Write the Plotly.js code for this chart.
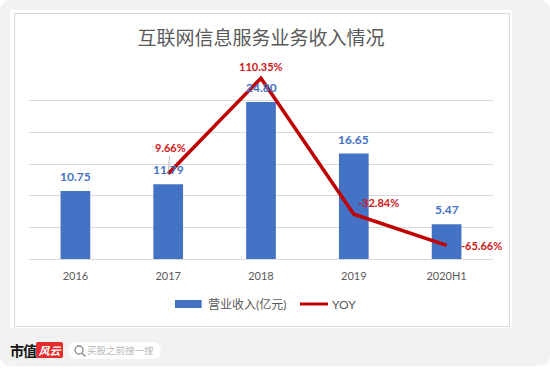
<!DOCTYPE html>
<html><head><meta charset="utf-8">
<script src="https://cdn.plot.ly/plotly-3.0.1.min.js"></script>
<style>
html,body{margin:0;padding:0;background:#fff;width:550px;height:368px;overflow:hidden;}
#bg{position:absolute;left:0;top:0;width:550px;height:366px;background:#f2f2f2;border-radius:10px;}
#card{position:absolute;left:10px;top:10px;width:502px;height:318px;background:#fff;}
#frame{position:absolute;left:14px;top:13px;width:494px;height:312px;border:1px solid #d9d9d9;}
#chart{position:absolute;left:15px;top:14px;width:494px;height:312px;}
#logo1{position:absolute;left:10px;top:341px;font:bold 14px 'Noto Sans CJK SC';color:#111;line-height:18px;letter-spacing:-1px;}
#logo2{position:absolute;left:36px;top:342px;width:27px;height:16px;background:#e52b2b;border-radius:2px;color:#fff;font:italic bold 11px 'Noto Sans CJK SC';line-height:16px;text-align:center;}
#search{position:absolute;left:68px;top:342px;width:93px;height:17px;background:#fff;border-radius:9px;}
#search span{position:absolute;left:19px;top:0;font:9.5px 'Noto Sans CJK SC';color:#b8b8b8;line-height:17px;}
</style></head>
<body>
<div id="bg"></div>
<div id="card"></div>
<div id="frame"></div>
<div id="chart"></div>
<div id="logo1">市值</div>
<div id="logo2">风云</div>
<div id="search">
<svg width="14" height="14" style="position:absolute;left:5px;top:2px" viewBox="0 0 14 14"><circle cx="6" cy="6" r="4" fill="none" stroke="#8a8a8a" stroke-width="1.3"/><line x1="9" y1="9" x2="12.5" y2="12.5" stroke="#8a8a8a" stroke-width="1.4"/></svg>
<span>买股之前搜一搜</span></div>
<script>
const categories = ['2016','2017','2018','2019','2020H1'];
const revenue = [10.75, 11.79, 24.80, 16.65, 5.47];
const yoy = [null, 9.66, 110.35, -32.84, -65.66];
const revenueName = '营业收入(亿元)';
const yoyName = 'YOY';
const titleText = '互联网信息服务业务收入情况';

const BLUE = '#4472C4', RED = '#C00000', LABELRED = '#D01818', GRAY = '#595959';
const FONT = "Lato, 'Noto Sans CJK SC', sans-serif";

// label offsets for YOY labels (pixels)
const yoyLabelStyle = [
  null,
  {arrow:true, ax:2, ay:-26},
  {xanchor:'center', xshift:0, yshift:12},
  {xanchor:'left', xshift:2, yshift:12},
  {xanchor:'left', xshift:12, yshift:0}
];

const annotations = [];
categories.forEach((c,i)=>{
  annotations.push({x:i, y:revenue[i], xref:'x', yref:'y', text:revenue[i].toFixed(2),
    showarrow:false, yanchor:'bottom', yshift:5,
    font:{family:FONT, size:12, color:BLUE, weight:'bold'}});
});
yoy.forEach((v,i)=>{
  if(v===null) return;
  const s = yoyLabelStyle[i];
  const a = {x:i, y:v, xref:'x', yref:'y2', text:v.toFixed(2)+'%',
    font:{family:FONT, size:11, color:LABELRED, weight:'bold'}};
  if(s.arrow){
    Object.assign(a,{showarrow:true, ax:s.ax, ay:s.ay, arrowhead:0, arrowwidth:0.8, arrowcolor:'#a6a6a6', standoff:2});
  } else {
    Object.assign(a,{showarrow:false, xanchor:s.xanchor, yanchor:'middle', xshift:s.xshift, yshift:s.yshift});
  }
  annotations.push(a);
});
// custom legend
annotations.push({xref:'paper', yref:'paper', x:0.381, y:-0.237, xanchor:'left', yanchor:'middle',
  text:revenueName, showarrow:false, font:{family:FONT, size:12, color:GRAY}});
annotations.push({xref:'paper', yref:'paper', x:0.649, y:-0.237, xanchor:'left', yanchor:'middle',
  text:yoyName, showarrow:false, font:{family:FONT, size:12, color:GRAY}});

const shapes = [
  {type:'rect', xref:'paper', yref:'paper', x0:0.3147, x1:0.3722, y0:-0.2158, y1:-0.2579, fillcolor:BLUE, line:{width:0}},
  {type:'line', xref:'paper', yref:'paper', x0:0.584, x1:0.6444, y0:-0.2368, y1:-0.2368, line:{color:RED, width:3}}
];

const data = [
  {type:'bar', x:categories, y:revenue, name:revenueName, marker:{color:BLUE}, cliponaxis:false},
  {type:'scatter', mode:'lines', x:categories, y:yoy, yaxis:'y2', name:yoyName,
   line:{color:RED, width:3.5}, connectgaps:false, cliponaxis:false}
];

const layout = {
  width:494, height:312,
  margin:{l:14, r:16, t:55, b:67},
  paper_bgcolor:'rgba(0,0,0,0)', plot_bgcolor:'rgba(0,0,0,0)',
  font:{family:FONT, color:GRAY},
  title:{text:titleText, font:{family:FONT, size:19, color:GRAY}, x:0.5, xref:'paper', y:0.923, yref:'container', yanchor:'middle'},
  showlegend:false,
  bargap:0.68,
  xaxis:{type:'category', categoryorder:'array', categoryarray:categories, range:[-0.5,4.5], autorange:false, tickfont:{size:11, color:GRAY}, ticks:'', ticklabelstandoff:9, showline:false, showgrid:false, zeroline:false, fixedrange:true},
  yaxis:{range:[0,30], dtick:5, showticklabels:false, showgrid:true, gridcolor:'#d9d9d9', gridwidth:1, zeroline:true, zerolinecolor:'#d9d9d9', zerolinewidth:1, fixedrange:true},
  yaxis2:{range:[-80,120], overlaying:'y', side:'right', visible:false, showgrid:false, zeroline:false, fixedrange:true},
  annotations:annotations, shapes:shapes,
  hovermode:false
};
Plotly.newPlot('chart', data, layout, {displayModeBar:false, staticPlot:true});
</script>
</body></html>
